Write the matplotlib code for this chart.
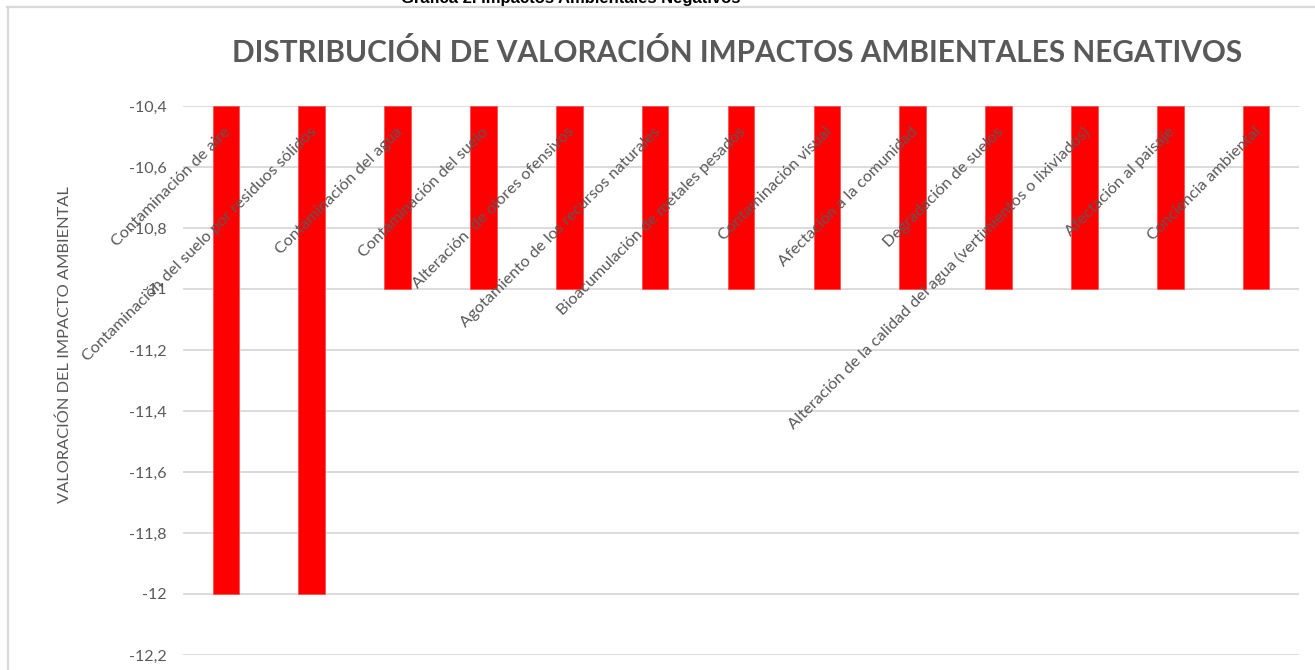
import matplotlib
matplotlib.use("Agg")
import matplotlib.pyplot as plt
from matplotlib.transforms import blended_transform_factory, ScaledTranslation
from matplotlib.ticker import FuncFormatter, MultipleLocator
from matplotlib.lines import Line2D

categories = [
    "Contaminación de aire",
    "Contaminación del suelo por residuos sólidos",
    "Contaminación del agua",
    "Contaminación del suelo",
    "Alteración  de olores ofensivos",
    "Agotamiento de los recursos naturales",
    "Bioacumulación de metales pesados",
    "Contaminación visual",
    "Afectación a la comunidad",
    "Degradación de suelos",
    "Alteración de la calidad del agua (vertimientos o lixiviados)",
    "Afectación al paisaje",
    "Conciencia ambiental",
]
values = [-12, -12, -11, -11, -11, -11, -11, -11, -11, -11, -11, -11, -11]

y_min, y_max, y_step = -12.2, -10.4, 0.2

suptitle = "Gráfica 2. Impactos Ambientales Negativos"
title = "DISTRIBUCIÓN DE VALORACIÓN IMPACTOS AMBIENTALES NEGATIVOS"
ylabel = "VALORACIÓN DEL IMPACTO AMBIENTAL"

GRAY = "#595959"
GRID = "#d9d9d9"
FONT = ["Lato", "DejaVu Sans"]

W, H = 1315, 670
fig = plt.figure(figsize=(W / 100, H / 100), dpi=100)
fig.patch.set_facecolor("white")

ax = fig.add_axes([183 / W, 1 - 655 / H, (1299 - 183) / W, (655 - 106) / H])
x = list(range(len(categories)))
heights = [v - y_max for v in values]
ax.bar(x, heights, bottom=y_max, width=0.31, color="#ff0000",
       edgecolor="#ff4d4d", linewidth=0.6, zorder=3)

ax.set_xlim(-0.5, len(categories) - 0.5)
ax.set_ylim(y_min, y_max)
ax.yaxis.set_major_locator(MultipleLocator(y_step))
ax.yaxis.set_major_formatter(FuncFormatter(
    lambda v, p: f"{round(v, 1):g}".replace(".", ",")))
ax.grid(axis="y", color=GRID, linewidth=1.3, zorder=0)
ax.set_axisbelow(True)
for s in ax.spines.values():
    s.set_visible(False)
ax.tick_params(axis="y", length=0, pad=12, labelcolor=GRAY, labelsize=11.5)
ax.tick_params(axis="x", length=0, labelbottom=False)
for lbl in ax.get_yticklabels():
    lbl.set_fontfamily(FONT)

trans = blended_transform_factory(ax.transData, ax.transAxes) + \
    ScaledTranslation(2 / 72, -17 / 72, fig.dpi_scale_trans)
for xi, cat in zip(x, categories):
    ax.text(xi, 1.0, cat, transform=trans, rotation=45,
            rotation_mode="anchor", ha="right", va="center",
            color=GRAY, fontsize=11.8, family=FONT, zorder=4)

fig.text(65 / W, 1 - 345 / H, ylabel, rotation=90, ha="center", va="center",
         color=GRAY, fontsize=11.8, family=FONT)

fig.text(737 / W, 1 - 52 / H, title, ha="center", va="center",
         color=GRAY, fontsize=21.4, fontweight="bold", family=FONT)

fig.text(571 / W, 1 - 3 / H, suptitle, ha="center", va="baseline",
         color="black", fontsize=12, fontweight="bold",
         family=["Liberation Sans", "DejaVu Sans"])

fig.add_artist(Line2D([8 / W, 8 / W], [0, 1 - 7 / H], transform=fig.transFigure,
                      color=GRID, linewidth=1.6))
fig.add_artist(Line2D([7 / W, 1], [1 - 7 / H, 1 - 7 / H], transform=fig.transFigure,
                      color=GRID, linewidth=1.6))

fig.savefig("out.png", dpi=100, facecolor="white")
